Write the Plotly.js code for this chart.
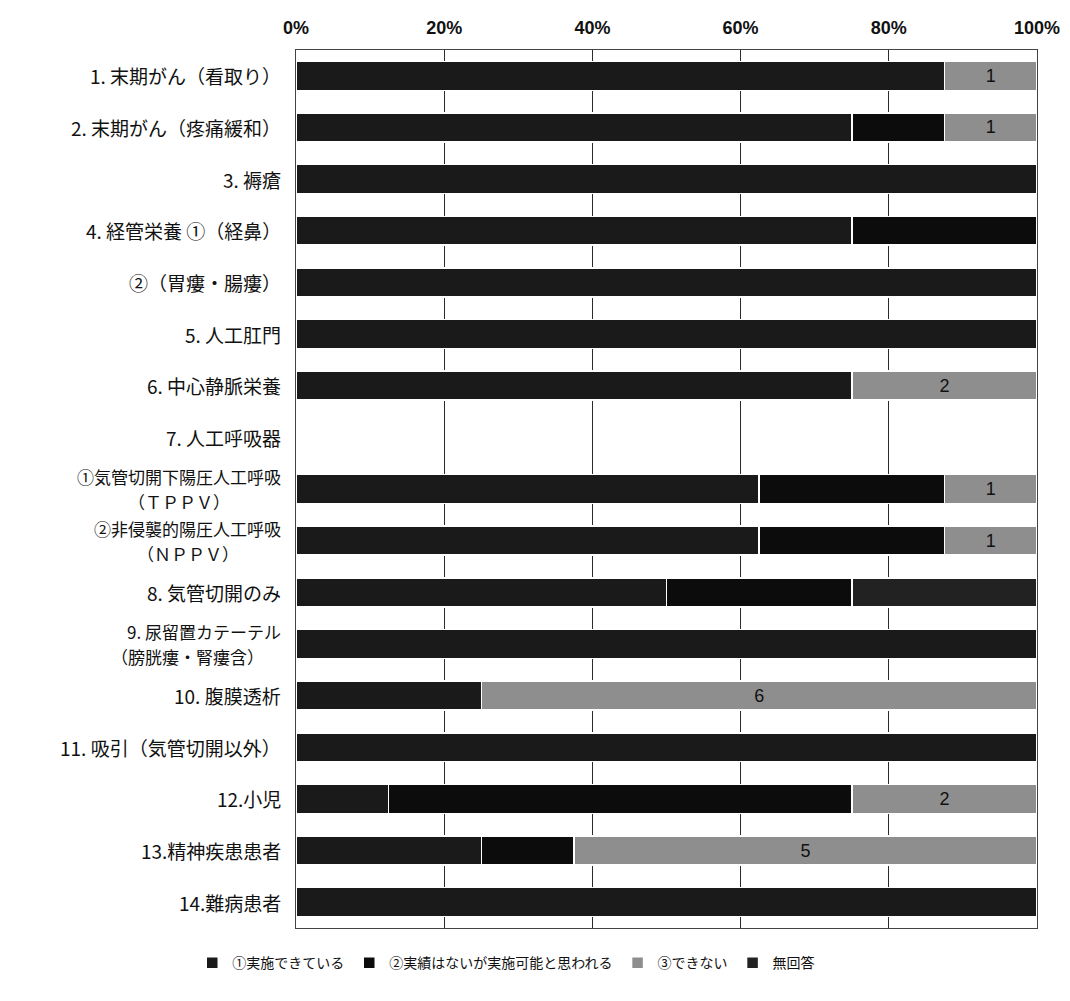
<!DOCTYPE html>
<html>
<head>
<meta charset="utf-8">
<script src="https://cdn.plot.ly/plotly-3.0.1.min.js"></script>
<style>html,body{margin:0;padding:0;background:#fff;}#chart{width:1070px;height:1001px;}</style>
</head>
<body>
<div id="chart"></div>
<script>
// Categories (top to bottom)
const categories = [
  "1. 末期がん（看取り）",
  "2. 末期がん（疼痛緩和）",
  "3. 褥瘡",
  "4. 経管栄養 ①（経鼻）",
  "②（胃瘻・腸瘻）",
  "5. 人工肛門",
  "6. 中心静脈栄養",
  "7. 人工呼吸器",
  "①気管切開下陽圧人工呼吸<br>（ＴＰＰＶ）",
  "②非侵襲的陽圧人工呼吸<br>（ＮＰＰＶ）",
  "8. 気管切開のみ",
  "9. 尿留置カテーテル<br>（膀胱瘻・腎瘻含）",
  "10. 腹膜透析",
  "11. 吸引（気管切開以外）",
  "12.小児",
  "13.精神疾患患者",
  "14.難病患者"
];
// Series names
const seriesNames = ["①実施できている", "②実績はないが実施可能と思われる", "③できない", "無回答"];
// Counts (n = 8 per row; null = none)
const done      = [7, 6, 8, 6, 8, 8, 6, null, 5, 5, 4, 8, 2, 8, 1, 2, 8];
const possible  = [null, 1, null, 2, null, null, null, null, 2, 2, 2, null, null, null, 5, 1, null];
const cannot    = [1, 1, null, null, null, null, 2, null, 1, 1, null, null, 6, null, 2, 5, null];
const noAnswer  = [null, null, null, null, null, null, null, null, null, null, 2, null, null, null, null, null, null];
// Tick labels
const tickVals = [0, 20, 40, 60, 80, 100];
const tickText = ["0%", "20%", "40%", "60%", "80%", "100%"];

const colors = ["#1a1a1a", "#0c0c0c", "#8e8e8e", "#222222"];
const seriesData = [done, possible, cannot, noAnswer];

const traces = seriesData.map((vals, i) => ({
  type: "bar",
  orientation: "h",
  name: seriesNames[i],
  y: categories,
  x: vals,
  marker: { color: colors[i], line: { color: "#ffffff", width: 1.5 } },
  text: i === 2 ? vals.map(v => v == null ? "" : String(v)) : undefined,
  texttemplate: i === 2 ? "%{text}" : undefined,
  textposition: i === 2 ? "inside" : "none",
  insidetextanchor: "middle",
  textfont: { family: "Liberation Sans Narrow, Liberation Sans, sans-serif", size: 18, color: "#111" },
  hoverinfo: "x+y+name"
}));

// Category labels: one annotation per text line so lines can be spaced explicitly
const annotations = [];
categories.forEach(c => {
  const lines = c.split("<br>");
  const n = lines.length;
  const step = 25;
  lines.forEach((ln, k) => {
    annotations.push({
      xref: "paper", yref: "y",
      x: 0, y: c,
      xanchor: "right", yanchor: "middle",
      xshift: -13,
      yshift: n > 1 ? ((n - 1) / 2 - k) * step : 0,
      showarrow: false,
      text: ln,
      font: { family: "Noto Sans CJK JP, sans-serif", size: n > 1 ? 17 : 19, color: "#111" }
    });
  });
});
// Second lines are centred under the first line
(function centreMultiLine() {
  const charW = 17;
  categories.forEach(c => {
    const lines = c.split("<br>");
    if (lines.length < 2) return;
    const w0 = lines[0].length * charW;
    annotations.forEach(a => {
      if (a.y !== c) return;
      const w = a.text.length * charW;
      a.xshift = -13 - (w0 - w) / 2;
    });
  });
})();

const layout = {
  width: 1070, height: 1001,
  margin: { l: 296, r: 33, t: 50, b: 73 },
  paper_bgcolor: "#fff", plot_bgcolor: "#fff",
  barmode: "stack",
  barnorm: "percent",
  bargap: 0.44,
  showlegend: true,
  legend: {
    orientation: "h",
    x: -0.14, xanchor: "left",
    y: -0.04, yanchor: "middle",
    traceorder: "normal",
    font: { family: "Noto Sans CJK JP, sans-serif", size: 14, color: "#111" },
    itemwidth: 30
  },
  xaxis: {
    side: "top",
    range: [0, 100],
    tickvals: tickVals,
    ticktext: tickText,
    tickfont: { family: "Liberation Sans Narrow, Liberation Sans, sans-serif", size: 18, color: "#111", weight: "bold" },
    showgrid: true, gridcolor: "#2a2a2a", gridwidth: 1,
    zeroline: false,
    showline: true, mirror: true, linecolor: "#444", linewidth: 1,
    ticks: "", ticklabelstandoff: 8,
    fixedrange: true
  },
  yaxis: {
    type: "category",
    categoryorder: "array",
    categoryarray: categories,
    autorange: "reversed",
    showticklabels: false,
    showgrid: false,
    showline: true, mirror: true, linecolor: "#444", linewidth: 1,
    ticks: "",
    fixedrange: true
  },
  annotations: annotations
};

Plotly.newPlot("chart", traces, layout, { displayModeBar: false, staticPlot: true });
</script>
</body>
</html>
